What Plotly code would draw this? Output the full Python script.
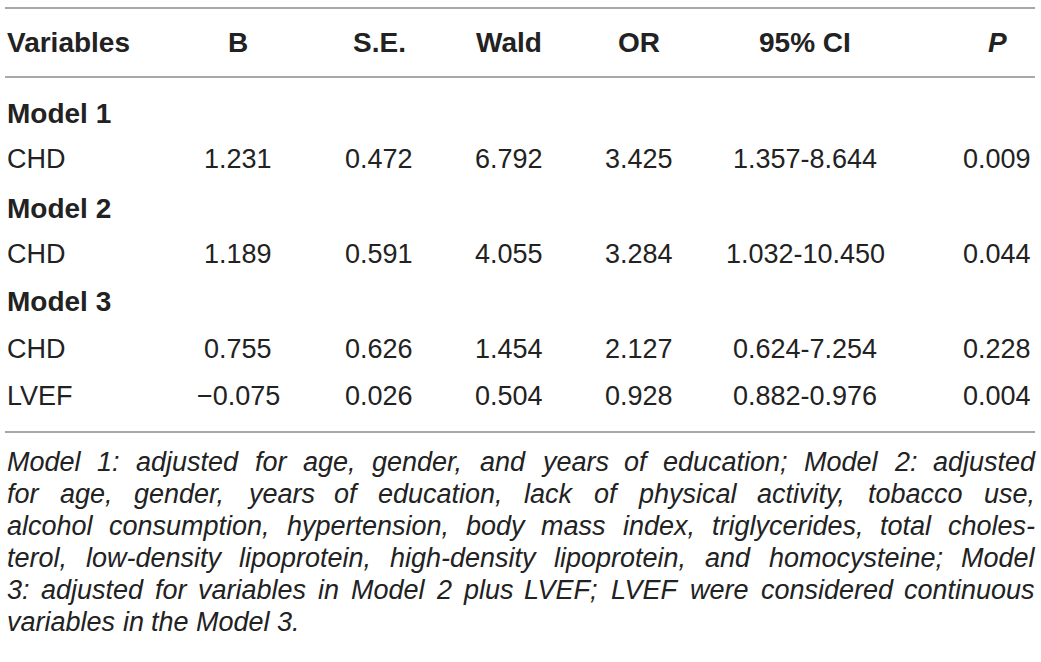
import plotly.graph_objects as go

# column headers and rows of the table
headers = ["Variables", "B", "S.E.", "Wald", "OR", "95% CI", "<i>P</i>"]
row_labels = ["Model 1", "CHD", "Model 2", "CHD", "Model 3", "CHD", "LVEF"]
row_is_group = [True, False, True, False, True, False, False]
b_vals = ["", "1.231", "", "1.189", "", "0.755", "\u22120.075"]
se_vals = ["", "0.472", "", "0.591", "", "0.626", "0.026"]
wald_vals = ["", "6.792", "", "4.055", "", "1.454", "0.504"]
or_vals = ["", "3.425", "", "3.284", "", "2.127", "0.928"]
ci_vals = ["", "1.357-8.644", "", "1.032-10.450", "", "0.624-7.254", "0.882-0.976"]
p_vals = ["", "0.009", "", "0.044", "", "0.228", "0.004"]

footnote_lines = [
    "Model 1: adjusted for age, gender, and years of education; Model 2: adjusted",
    "for age, gender, years of education, lack of physical activity, tobacco use,",
    "alcohol consumption, hypertension, body mass index, triglycerides, total choles-",
    "terol, low-density lipoprotein, high-density lipoprotein, and homocysteine; Model",
    "3: adjusted for variables in Model 2 plus LVEF; LVEF were considered continuous",
    "variables in the Model 3.",
]

W, H = 1041, 662
col_x = [5, 238, 379, 509, 639, 805, 997]
header_y = 42
row_y = [113, 159, 208, 254, 301, 349, 396]
foot_y = [462, 494, 526, 558, 590, 622]
line_y = [8, 77, 432]
foot_left, foot_right = 6, 1034
foot_size = 27

font = "Liberation Sans, Arial, Helvetica, sans-serif"
txt = "#222222"

# approximate Arial / Liberation Sans advance widths (per 1000 em) for justifying the note
widths = dict(zip("abcdefghijklmnopqrstuvwxyz",
                  [556, 556, 500, 556, 556, 278, 556, 556, 222, 222, 500, 222, 833,
                   556, 556, 556, 556, 333, 500, 278, 556, 500, 722, 500, 500, 500]))
widths.update({"M": 833, "L": 556, "V": 667, "E": 667, "F": 611, " ": 278, ",": 278,
               ".": 278, ":": 278, ";": 278, "-": 333})
for d in "0123456789":
    widths[d] = 556


def word_width(w, size):
    return sum(widths.get(ch, 556) for ch in w) * size / 1000.0


fig = go.Figure()

# horizontal rules as line traces
for y in line_y:
    fig.add_trace(go.Scatter(x=[5, 1035], y=[y, y], mode="lines", hoverinfo="skip",
                             cliponaxis=False, line=dict(color="#a8a8a8", width=2)))

ann = []
for i, h in enumerate(headers):
    ann.append(dict(x=col_x[i], y=header_y, text="<b>" + h + "</b>",
                    xanchor="left" if i == 0 else "center", yanchor="middle",
                    showarrow=False, font=dict(size=28, color=txt, family=font)))

columns = [b_vals, se_vals, wald_vals, or_vals, ci_vals, p_vals]
for r, lab in enumerate(row_labels):
    if row_is_group[r]:
        t, s = "<b>" + lab + "</b>", 28
    else:
        t, s = lab, 27
    ann.append(dict(x=col_x[0], y=row_y[r], text=t, xanchor="left", yanchor="middle",
                    showarrow=False, font=dict(size=s, color=txt, family=font)))
    for c, vals in enumerate(columns):
        if vals[r]:
            ann.append(dict(x=col_x[c + 1], y=row_y[r], text=vals[r], xanchor="center",
                            yanchor="middle", showarrow=False,
                            font=dict(size=27, color=txt, family=font)))

# justified footnote: place each word, spreading the spare room over the gaps
for k, line in enumerate(footnote_lines):
    words = line.split(" ")
    last = k == len(footnote_lines) - 1
    ww = [word_width(w, foot_size) for w in words]
    if last or len(words) < 2:
        gap = word_width(" ", foot_size)
    else:
        gap = (foot_right - foot_left - sum(ww)) / (len(words) - 1)
    x = foot_left
    for w, wl in zip(words, ww):
        ann.append(dict(x=x, y=foot_y[k], text="<i>" + w + "</i>", xanchor="left",
                        yanchor="middle", showarrow=False, borderpad=0,
                        font=dict(size=foot_size, color=txt, family=font)))
        x += wl + gap

fig.update_layout(
    width=W, height=H, margin=dict(l=0, r=0, t=0, b=0),
    paper_bgcolor="white", plot_bgcolor="white",
    xaxis=dict(range=[0, W], visible=False, fixedrange=True),
    yaxis=dict(range=[H, 0], visible=False, fixedrange=True),
    annotations=ann, showlegend=False,
)
fig.write_html("out.html", config={"displayModeBar": False},
               post_script="document.body.style.margin='0px';")
